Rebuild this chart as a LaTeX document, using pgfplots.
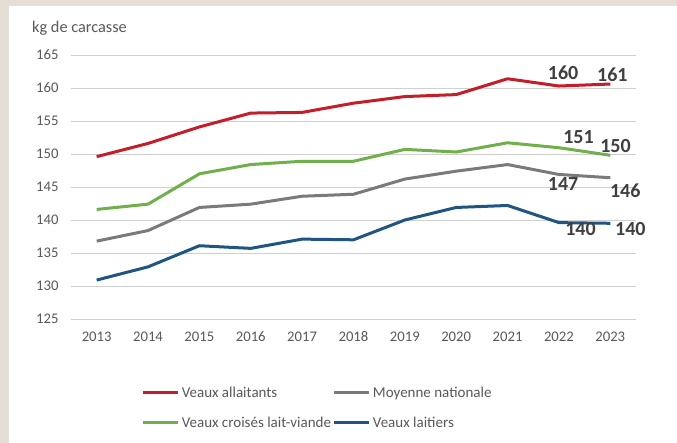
\documentclass[border=0pt]{standalone}
\usepackage{pgfplots}
\pgfplotsset{compat=1.18}
\usepackage{fontspec}
\setmainfont{Carlito}
\definecolor{bg}{HTML}{E5DED5}
\definecolor{txt}{HTML}{595959}
\definecolor{lbl}{HTML}{404040}
\definecolor{gridc}{HTML}{D0D0D0}
\definecolor{cred}{HTML}{C41E2A}
\definecolor{cgreen}{HTML}{70B04A}
\definecolor{cgray}{HTML}{7A7A7A}
\definecolor{cblue}{HTML}{1F5582}
\begin{document}
\begin{tikzpicture}[x=1pt,y=1pt]
\useasboundingbox (0,0) rectangle (677,443);
\fill[bg] (0,0) rectangle (677,443);
\fill[white] (9,0) rectangle (677,437);
\node[anchor=west, text=txt, font=\fontsize{16.3}{19}\selectfont, inner sep=0pt] at (32,415) {kg de carcasse};
\begin{axis}[
  at={(71pt,124pt)}, anchor=south west,
  scale only axis, width=565pt, height=264pt,
  xmin=2012.5, xmax=2023.5, ymin=125, ymax=165,
  xtick={2013,2014,...,2023}, ytick={125,130,...,165},
  ymajorgrids, grid style={draw=gridc, line width=0.9pt},
  axis line style={draw=none},
  major tick length=0pt,
  tick label style={font=\fontsize{14.7}{17}\selectfont, text=txt},
  /pgf/number format/assume math mode=true,
  x tick label style={/pgf/number format/1000 sep={}, yshift=-9pt},
  y tick label style={xshift=-9pt},
  clip=false,
  every axis plot/.append style={line width=3pt, line join=round},
  legend columns=2,
  legend cell align=left,
  legend image code/.code={\draw[#1, line width=3pt] (0pt,0pt) -- (35pt,0pt);},
  legend style={draw=none, fill=none, at={(0.125,-0.2525)}, anchor=north west,
    inner sep=0pt, font=\fontsize{15}{17}\selectfont, text=txt,
    nodes={inner sep=1pt}, row sep=16pt, /tikz/column sep=1pt},
]
\addplot[cred] coordinates {(2013,149.6) (2014,151.6) (2015,154.1) (2016,156.2) (2017,156.3) (2018,157.7) (2019,158.7) (2020,159.0) (2021,161.4) (2022,160.3) (2023,160.6)};
\addlegendentry{Veaux allaitants}
\addplot[cgray] coordinates {(2013,136.8) (2014,138.4) (2015,141.9) (2016,142.4) (2017,143.6) (2018,143.9) (2019,146.2) (2020,147.4) (2021,148.4) (2022,146.9) (2023,146.4)};
\addlegendentry{Moyenne nationale}
\addplot[cgreen] coordinates {(2013,141.6) (2014,142.4) (2015,147.0) (2016,148.4) (2017,148.9) (2018,148.9) (2019,150.7) (2020,150.3) (2021,151.7) (2022,150.95) (2023,149.8)};
\addlegendentry{Veaux croisés lait-viande}
\addplot[cblue] coordinates {(2013,130.9) (2014,132.9) (2015,136.1) (2016,135.7) (2017,137.1) (2018,137.0) (2019,140.0) (2020,141.9) (2021,142.2) (2022,139.6) (2023,139.5)};
\addlegendentry{Veaux laitiers}
\begin{scope}[every node/.style={font=\fontsize{20}{22}\bfseries\selectfont, text=lbl, inner sep=0pt}]
\node at (axis cs:2022.08,162.27) {160};
\node at (axis cs:2023.04,161.97) {161};
\node at (axis cs:2022.38,152.58) {151};
\node at (axis cs:2023.10,151.21) {150};
\node at (axis cs:2022.08,145.45) {147};
\node at (axis cs:2023.29,144.40) {146};
\node at (axis cs:2022.42,138.64) {140};
\node at (axis cs:2023.39,138.64) {140};
\end{scope}
\end{axis}
\end{tikzpicture}
\end{document}
